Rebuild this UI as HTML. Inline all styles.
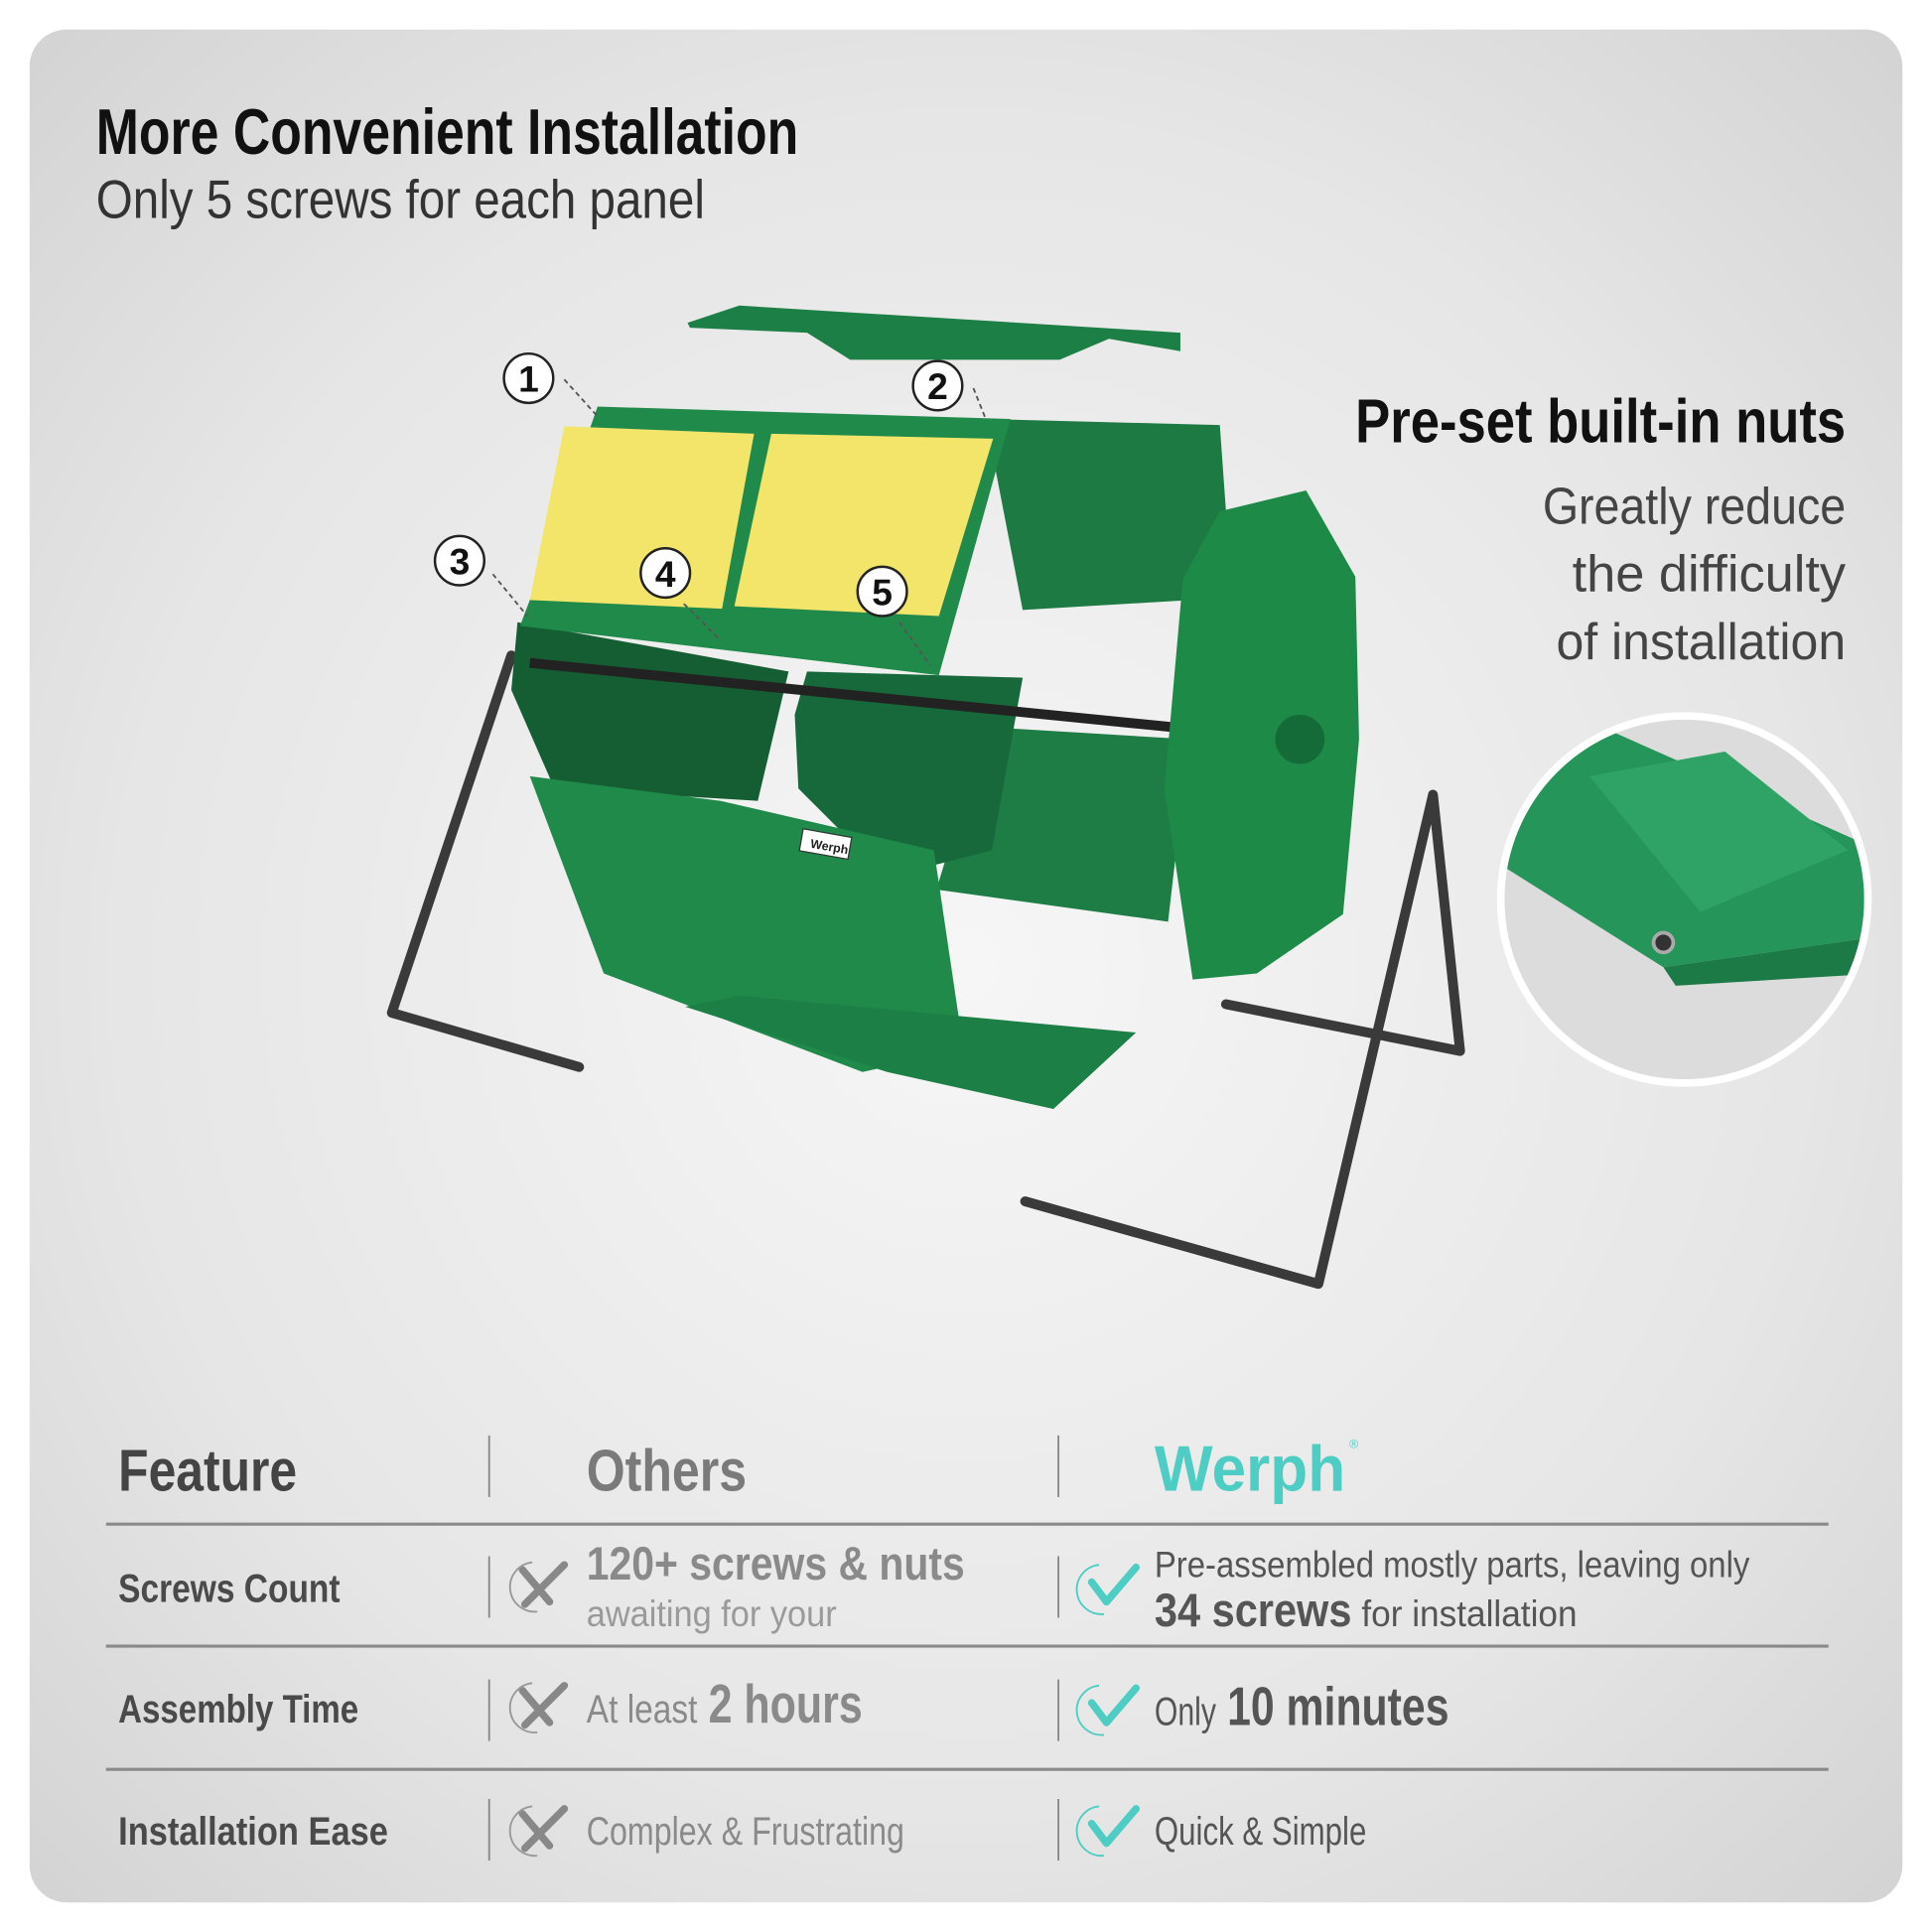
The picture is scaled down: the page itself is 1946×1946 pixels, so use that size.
<!DOCTYPE html>
<html><head><meta charset="utf-8"><style>
html,body{margin:0;padding:0;background:#fff;width:1946px;height:1946px;overflow:hidden}
svg{display:block}
text{font-family:"Liberation Sans",sans-serif}
</style></head><body>
<svg width="1946" height="1946" viewBox="0 0 1568 1568" xmlns="http://www.w3.org/2000/svg">
<defs>
<radialGradient id="bg" cx="0.5" cy="0.5" r="0.75">
<stop offset="0" stop-color="#f6f6f6"/><stop offset="0.6" stop-color="#e6e6e6"/><stop offset="1" stop-color="#d0d0d0"/>
</radialGradient>
<clipPath id="cc"><circle cx="1367" cy="730" r="146"/></clipPath>
</defs>
<rect width="1568" height="1568" fill="#fff"/>
<rect x="24" y="24" width="1520" height="1520" rx="30" fill="url(#bg)"/>

<text x="78" y="125" font-size="52" font-weight="bold" fill="#111" textLength="570" lengthAdjust="spacingAndGlyphs">More Convenient Installation</text>
<text x="78" y="177" font-size="44" fill="#333" textLength="494" lengthAdjust="spacingAndGlyphs">Only 5 screws for each panel</text>
<text x="1498" y="359" font-size="50" font-weight="bold" fill="#111" text-anchor="end" textLength="398" lengthAdjust="spacingAndGlyphs">Pre-set built-in nuts</text>
<g font-size="42" fill="#444" text-anchor="end">
<text x="1498" y="425" textLength="246" lengthAdjust="spacingAndGlyphs">Greatly reduce</text>
<text x="1498" y="480" textLength="222" lengthAdjust="spacingAndGlyphs">the difficulty</text>
<text x="1498" y="535" textLength="235" lengthAdjust="spacingAndGlyphs">of installation</text>
</g>

<!-- product -->
<g stroke="#3a3a3a" stroke-width="8" fill="none" stroke-linejoin="round" stroke-linecap="round">
<polyline points="415,532 318,822 470,866"/>
<polyline points="995,815 1185,853 1163,645 1070,1042 832,975"/>
</g>
<polygon points="800,340 990,345 1000,485 830,495" fill="#1c7a42"/>
<polygon points="800,590 965,600 948,748 760,722" fill="#1d7d44"/>
<polygon points="420,505 640,545 615,650 450,640 415,560" fill="#155e33"/>
<polygon points="655,545 830,550 805,690 720,712 648,640 645,580" fill="#17683a"/>
<line x1="430" y1="538" x2="950" y2="590" stroke="#222" stroke-width="8"/>
<polygon points="990,415 1060,398 1100,468 1103,600 1090,742 1020,790 968,795 945,640 960,470" fill="#1d8a48"/>
<circle cx="1055" cy="600" r="20" fill="#146b38"/>
<polygon points="558,262 600,248 958,270 958,285 900,275 860,292 690,292 655,270 560,266" fill="#1c7f45"/>
<polygon points="485,330 820,340 762,548 422,508 430,487" fill="#1f8a4a"/>
<polygon points="458,346 612,352 586,494 430,487" fill="#f3e46a"/>
<polygon points="626,352 806,356 762,500 596,492" fill="#f3e46a"/>
<polygon points="430,630 585,650 758,690 782,852 700,870 490,790" fill="#1f8a4a"/>
<polygon points="556,817 600,808 922,838 855,900 720,870" fill="#1c7f45"/>
<rect x="650" y="676" width="40" height="18" fill="#fff" stroke="#333" transform="rotate(10 670 685)"/>
<text x="658" y="690" font-size="10" font-weight="bold" fill="#222" transform="rotate(10 670 685)">Werph</text>
<g stroke="#555" stroke-width="1.5" stroke-dasharray="4,3">
<line x1="458" y1="308" x2="485" y2="338"/><line x1="790" y1="315" x2="800" y2="340"/>
<line x1="400" y1="466" x2="428" y2="500"/><line x1="555" y1="490" x2="585" y2="520"/><line x1="730" y1="505" x2="755" y2="540"/>
</g>
<g fill="#fff" stroke="#222" stroke-width="2">
<circle cx="429" cy="307" r="20"/><circle cx="761" cy="313" r="20"/><circle cx="373" cy="455" r="20"/><circle cx="540" cy="465" r="20"/><circle cx="716" cy="480" r="20"/>
</g>
<g font-size="30" font-weight="bold" fill="#111" text-anchor="middle">
<text x="429" y="318">1</text><text x="761" y="324">2</text><text x="373" y="466">3</text><text x="540" y="476">4</text><text x="716" y="491">5</text>
</g>

<!-- inset circle -->
<circle cx="1367" cy="730" r="152" fill="#fff"/>
<g clip-path="url(#cc)">
<rect x="1215" y="578" width="310" height="310" fill="#dcdcdc"/>
<polygon points="1215,640 1300,590 1525,690 1525,760 1350,785 1215,700" fill="#25955a"/>
<polygon points="1290,630 1400,610 1500,690 1380,740" fill="#2fa366"/>
<polygon points="1350,785 1525,760 1525,790 1360,800" fill="#1b7a45"/>
</g>
<circle cx="1350" cy="765" r="8" fill="#333" stroke="#aaa" stroke-width="3"/>
<circle cx="1367" cy="730" r="149" fill="none" stroke="#fff" stroke-width="6"/>

<!-- table -->
<g font-weight="bold">
<text x="96" y="1210" font-size="48" fill="#444" textLength="145" lengthAdjust="spacingAndGlyphs">Feature</text>
<text x="476" y="1210" font-size="48" fill="#7a7a7a" textLength="130" lengthAdjust="spacingAndGlyphs">Others</text>
<text x="937" y="1210" font-size="52" fill="#4ecdc4" textLength="155" lengthAdjust="spacingAndGlyphs">Werph</text>
</g>
<text x="1095" y="1175" font-size="10" fill="#4ecdc4">®</text>
<g stroke="#8a8a8a" stroke-width="2.5">
<line x1="86" y1="1237" x2="1484" y2="1237"/><line x1="86" y1="1336" x2="1484" y2="1336"/><line x1="86" y1="1436" x2="1484" y2="1436"/>
</g>
<g stroke="#888" stroke-width="1.5">
<line x1="397" y1="1165" x2="397" y2="1215"/><line x1="859" y1="1165" x2="859" y2="1215"/>
<line x1="397" y1="1263" x2="397" y2="1313"/><line x1="859" y1="1263" x2="859" y2="1313"/>
<line x1="397" y1="1363" x2="397" y2="1413"/><line x1="859" y1="1363" x2="859" y2="1413"/>
<line x1="397" y1="1460" x2="397" y2="1510"/><line x1="859" y1="1460" x2="859" y2="1510"/>
</g>
<g font-weight="bold" fill="#4a4a4a" font-size="32">
<text x="96" y="1300" textLength="180" lengthAdjust="spacingAndGlyphs">Screws Count</text>
<text x="96" y="1398" textLength="195" lengthAdjust="spacingAndGlyphs">Assembly Time</text>
<text x="96" y="1497" textLength="219" lengthAdjust="spacingAndGlyphs">Installation Ease</text>
</g>
<text x="476" y="1282" font-size="38" font-weight="bold" fill="#8a8a8a" textLength="307" lengthAdjust="spacingAndGlyphs">120+ screws &amp; nuts</text>
<text x="476" y="1320" font-size="30" fill="#9a9a9a" textLength="203" lengthAdjust="spacingAndGlyphs">awaiting for your</text>
<text x="476" y="1398" font-size="32" fill="#8a8a8a" textLength="90" lengthAdjust="spacingAndGlyphs">At least</text>
<text x="575" y="1398" font-size="44" font-weight="bold" fill="#8a8a8a" textLength="125" lengthAdjust="spacingAndGlyphs">2 hours</text>
<text x="476" y="1497" font-size="32" fill="#8a8a8a" textLength="258" lengthAdjust="spacingAndGlyphs">Complex &amp; Frustrating</text>
<text x="937" y="1280" font-size="30" fill="#555" textLength="483" lengthAdjust="spacingAndGlyphs">Pre-assembled mostly parts, leaving only</text>
<text x="937" y="1320" font-size="38" font-weight="bold" fill="#555" textLength="160" lengthAdjust="spacingAndGlyphs">34 screws</text>
<text x="1105" y="1320" font-size="30" fill="#555" textLength="175" lengthAdjust="spacingAndGlyphs">for installation</text>
<text x="937" y="1400" font-size="32" fill="#555" textLength="50" lengthAdjust="spacingAndGlyphs">Only</text>
<text x="996" y="1400" font-size="44" font-weight="bold" fill="#555" textLength="180" lengthAdjust="spacingAndGlyphs">10 minutes</text>
<text x="937" y="1497" font-size="32" fill="#555" textLength="172" lengthAdjust="spacingAndGlyphs">Quick &amp; Simple</text>
<!-- icons -->
<g fill="none" stroke="#888" stroke-width="6" stroke-linecap="round">
<path d="M424,1274 L446,1300 M458,1270 L426,1302"/>
<path d="M424,1372 L446,1398 M458,1368 L426,1400"/>
<path d="M424,1472 L446,1498 M458,1468 L426,1500"/>
</g>
<g fill="none" stroke="#999" stroke-width="1.5">
<path d="M432,1268 A20,20 0 0 0 436,1308"/><path d="M432,1366 A20,20 0 0 0 436,1406"/><path d="M432,1466 A20,20 0 0 0 436,1506"/>
</g>
<g fill="none" stroke="#4ecdc4" stroke-width="6" stroke-linecap="round" stroke-linejoin="round">
<path d="M886,1284 L898,1300 L922,1272"/>
<path d="M886,1382 L898,1398 L922,1370"/>
<path d="M886,1480 L898,1496 L922,1468"/>
</g>
<g fill="none" stroke="#4ecdc4" stroke-width="1.5">
<path d="M892,1270 A20,20 0 0 0 896,1310"/><path d="M892,1368 A20,20 0 0 0 896,1408"/><path d="M892,1466 A20,20 0 0 0 896,1506"/>
</g>
</svg>
</body></html>
